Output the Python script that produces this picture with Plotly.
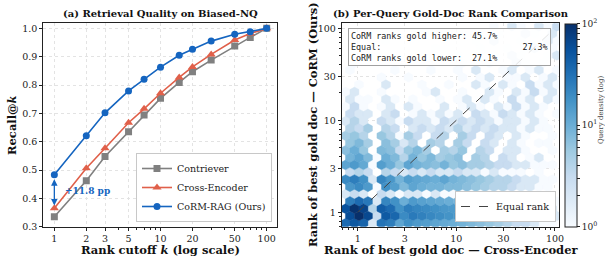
import math
import plotly.graph_objects as go
import plotly.colors as pc

# ---------------- data: panel (a) ----------------
k_values = [1, 2, 3, 5, 7, 10, 15, 20, 30, 50, 70, 100]
recall_contriever = [0.335, 0.462, 0.548, 0.635, 0.694, 0.753, 0.809, 0.847, 0.888, 0.938, 0.968, 1.0]
recall_cross_encoder = [0.365, 0.506, 0.577, 0.667, 0.716, 0.771, 0.827, 0.864, 0.908, 0.959, 0.982, 1.0]
recall_corm = [0.483, 0.621, 0.702, 0.779, 0.820, 0.863, 0.905, 0.926, 0.955, 0.979, 0.988, 1.0]
k_ticks = [1, 2, 3, 5, 10, 20, 50, 100]
recall_ticks = [0.3, 0.4, 0.5, 0.6, 0.7, 0.8, 0.9, 1.0]
gap_label = "+11.8 pp"

# ---------------- data: panel (b) hexbin counts ----------------
# rows listed from top (highest CoRM rank) to bottom (rank ~0.76); 24 bins per row
hex_counts = [
    [0, 0, 0, 0, 0, 0, 0, 0, 0, 0, 0, 0, 0, 0, 0, 0, 1, 0, 2, 1, 0, 2, 1, 3],
    [0, 0, 0, 0, 0, 0, 0, 0, 0, 0, 0, 0, 0, 1, 0, 0, 0, 1, 0, 0, 2, 1, 0, 2],
    [0, 0, 0, 0, 1, 0, 0, 0, 0, 0, 0, 0, 0, 0, 1, 0, 2, 0, 0, 1, 0, 0, 2, 1],
    [0, 0, 0, 0, 0, 0, 0, 0, 0, 0, 1, 0, 0, 0, 0, 1, 0, 0, 1, 0, 1, 2, 0, 1],
    [0, 0, 0, 0, 0, 0, 0, 0, 0, 0, 0, 0, 1, 0, 0, 0, 1, 0, 2, 1, 0, 0, 1, 2],
    [0, 1, 0, 0, 0, 0, 0, 0, 0, 0, 0, 0, 0, 1, 0, 0, 1, 0, 0, 2, 1, 0, 1, 0],
    [1, 0, 0, 0, 0, 1, 0, 0, 0, 1, 0, 0, 1, 0, 2, 0, 0, 1, 2, 0, 1, 2, 0, 1],
    [0, 0, 0, 0, 1, 0, 0, 1, 0, 0, 0, 0, 0, 1, 0, 1, 2, 0, 1, 1, 2, 0, 1, 2],
    [0, 1, 0, 0, 2, 0, 0, 0, 1, 0, 0, 1, 0, 0, 2, 1, 0, 2, 1, 0, 3, 1, 2, 1],
    [1, 2, 0, 0, 1, 0, 0, 0, 0, 1, 2, 0, 0, 1, 0, 0, 2, 1, 0, 2, 1, 3, 1, 2],
    [2, 1, 1, 0, 2, 1, 0, 1, 0, 0, 1, 0, 1, 2, 0, 2, 1, 0, 3, 1, 2, 0, 2, 1],
    [1, 3, 1, 0, 1, 2, 0, 2, 1, 0, 0, 2, 0, 1, 2, 1, 0, 2, 1, 3, 1, 2, 1, 0],
    [3, 2, 2, 0, 2, 3, 0, 1, 2, 1, 2, 1, 2, 0, 3, 2, 1, 3, 2, 1, 2, 1, 0, 1],
    [2, 4, 2, 0, 3, 2, 1, 3, 2, 2, 1, 3, 2, 3, 2, 3, 2, 1, 2, 2, 1, 2, 1, 0],
    [4, 3, 5, 0, 4, 3, 0, 2, 3, 2, 3, 2, 4, 2, 3, 2, 3, 2, 2, 1, 2, 1, 1, 0],
    [5, 6, 4, 0, 6, 4, 1, 5, 3, 0, 3, 4, 0, 5, 3, 0, 3, 2, 0, 2, 1, 0, 0, 1],
    [6, 8, 5, 0, 7, 5, 2, 4, 0, 5, 4, 0, 5, 3, 0, 3, 2, 0, 2, 1, 0, 1, 1, 0],
    [7, 10, 6, 0, 8, 7, 3, 6, 8, 5, 0, 5, 4, 6, 0, 4, 3, 0, 2, 2, 1, 0, 0, 1],
    [9, 12, 8, 1, 10, 8, 4, 9, 6, 8, 5, 6, 7, 0, 5, 4, 0, 3, 2, 0, 1, 2, 0, 0],
    [12, 15, 11, 1, 14, 10, 6, 12, 9, 8, 7, 9, 6, 7, 5, 5, 4, 3, 3, 2, 2, 1, 1, 1],
    [3, 4, 3, 0, 4, 3, 2, 3, 2, 3, 2, 2, 3, 2, 2, 1, 2, 1, 1, 1, 0, 1, 0, 0],
    [20, 25, 18, 2, 22, 16, 9, 14, 12, 11, 10, 12, 9, 8, 7, 6, 5, 4, 4, 3, 2, 2, 1, 1],
    [16, 20, 15, 1, 18, 14, 8, 12, 10, 9, 9, 8, 8, 7, 6, 5, 4, 4, 3, 2, 2, 1, 1, 0],
    [2, 3, 2, 0, 3, 2, 1, 2, 2, 1, 2, 1, 1, 1, 1, 1, 1, 0, 1, 0, 0, 0, 0, 0],
    [25, 35, 28, 2, 22, 18, 10, 15, 13, 12, 11, 10, 9, 9, 8, 7, 6, 5, 4, 4, 3, 2, 2, 1],
    [55, 95, 70, 4, 45, 35, 18, 25, 22, 20, 18, 16, 15, 14, 12, 10, 9, 8, 6, 5, 4, 3, 2, 2],
    [60, 100, 65, 3, 48, 38, 20, 27, 24, 21, 19, 17, 16, 15, 13, 11, 9, 8, 7, 5, 4, 3, 3, 2],
    [35, 50, 40, 2, 30, 25, 12, 18, 15, 14, 12, 11, 10, 9, 8, 7, 6, 5, 4, 3, 3, 2, 1, 1],
]
rank_ticks = [1, 3, 10, 30, 100]
summary_labels = ["CoRM ranks gold higher:", "Equal:", "CoRM ranks gold lower:"]
summary_values = ["45.7%", "27.3%", "27.1%"]
diag_ranks = [1, 100]

# ---------------- hexbin geometry (log10 units) ----------------
HEX_X0, HEX_DX = -0.124, 0.0912
HEX_Y0, HEX_DY = -0.12, 0.0793   # half-row spacing

W, H = 605, 260
SERIF = "DejaVu Serif"
MONO = "DejaVu Sans Mono"
C_GRAY, C_RED, C_BLUE = "#808080", "#E0604A", "#1565C0"


def px(xp):
    return xp / W


def py(yp):
    return 1 - yp / H


fig = go.Figure()

# ---- panel (a) lines ----
for name, vals, col, sym in [
    ("Contriever", recall_contriever, C_GRAY, "square"),
    ("Cross-Encoder", recall_cross_encoder, C_RED, "triangle-up"),
    ("CoRM-RAG (Ours)", recall_corm, C_BLUE, "circle"),
]:
    fig.add_trace(go.Scatter(
        x=k_values, y=vals, mode="lines+markers", name=name,
        line=dict(color=col, width=1.6),
        marker=dict(symbol=sym, size=7 if sym != "triangle-up" else 8, color=col),
        xaxis="x", yaxis="y", legend="legend"))

# ---- panel (b) hexbin ----
blues = pc.make_colorscale(pc.sequential.Blues)
n_rows = len(hex_counts)
groups = {}
for ri, row in enumerate(hex_counts):
    r = n_rows - 1 - ri
    cy = HEX_Y0 + r * HEX_DY
    off = 0.5 if r % 2 else 0.0
    for i, c in enumerate(row):
        if c <= 0:
            continue
        cx = HEX_X0 + (i + off) * HEX_DX
        hw, h1, h2 = HEX_DX / 2, (2 * HEX_DY) / 6, (2 * HEX_DY) / 3
        verts = [(hw, -h1), (hw, h1), (0, h2), (-hw, h1), (-hw, -h1), (0, -h2), (hw, -h1)]
        g = groups.setdefault(c, ([], []))
        for dx, dy in verts:
            g[0].append(10 ** (cx + dx))
            g[1].append(10 ** (cy + dy))
        g[0].append(None)
        g[1].append(None)

for c in sorted(groups):
    col = pc.sample_colorscale(blues, [min(1.0, math.log10(c) / 2.0)])[0]
    xs, ys = groups[c]
    fig.add_trace(go.Scatter(
        x=xs, y=ys, mode="lines", fill="toself", fillcolor=col,
        line=dict(color=col, width=0.4), hoverinfo="skip", showlegend=False,
        xaxis="x2", yaxis="y2"))

# colorbar carrier
cb_vals = [0] + [math.log10(v) for v in range(2, 10)] + [1] + [math.log10(v) for v in range(20, 100, 10)] + [2]
cb_text = ["10<sup>0</sup>"] + [" "] * 8 + ["10<sup>1</sup>"] + [" "] * 8 + ["10<sup>2</sup>"]
fig.add_trace(go.Scatter(
    x=[1], y=[1], mode="markers", hoverinfo="skip", showlegend=False,
    marker=dict(color=[0], cmin=0, cmax=2, colorscale="Blues", opacity=0, size=1,
                showscale=True,
                colorbar=dict(x=px(565), xanchor="left", y=py(125), yanchor="middle",
                              len=(226.7 - 23.3) / H, lenmode="fraction",
                              thickness=12, thicknessmode="pixels", xpad=0, ypad=0,
                              outlinewidth=1, outlinecolor="#222",
                              tickmode="array", tickvals=cb_vals, ticktext=cb_text,
                              ticks="outside", ticklen=3, tickwidth=0.8, tickcolor="#222",
                              tickfont=dict(family=SERIF, size=9, color="#222"))),
    xaxis="x2", yaxis="y2"))

# diagonal
fig.add_trace(go.Scatter(
    x=diag_ranks, y=diag_ranks, mode="lines", name="Equal rank",
    line=dict(color="#444", width=1, dash="dash"),
    xaxis="x2", yaxis="y2", legend="legend2"))

axis_common = dict(showline=True, mirror=True, linecolor="#222", linewidth=1,
                   ticks="outside", ticklen=3, tickwidth=0.8, tickcolor="#222",
                   tickfont=dict(family=SERIF, size=9.5, color="#222"),
                   showgrid=True, gridcolor="#e3e3e3", gridwidth=0.7, griddash="dot",
                   zeroline=False, automargin=False)

minor_a = [4, 6, 7, 8, 9, 30, 40, 60, 70, 80, 90]
minor_b = [0.7, 0.8, 0.9, 2, 4, 5, 6, 7, 8, 9, 20, 40, 50, 60, 70, 80, 90]

fig.update_layout(
    width=W, height=H, margin=dict(l=0, r=0, t=0, b=0, autoexpand=False),
    paper_bgcolor="white", plot_bgcolor="white",
    xaxis=dict(domain=[px(43.3), px(277.3)], type="log", range=[-0.104, 2.1],
               tickmode="array", tickvals=k_ticks, ticktext=[str(v) for v in k_ticks],
               minor=dict(ticks="outside", ticklen=2, tickvals=minor_a, showgrid=False, tickcolor="#222"),
               anchor="y", **axis_common),
    yaxis=dict(domain=[py(226.7), py(22.7)], range=[0.3, 1.02],
               tickmode="array", tickvals=recall_ticks, ticktext=[f"{v:.1f}" for v in recall_ticks],
               anchor="x", **axis_common),
    xaxis2=dict(domain=[px(341.7), px(559.3)], type="log", range=[-0.162, 2.044],
                tickmode="array", tickvals=rank_ticks, ticktext=[str(v) for v in rank_ticks],
                minor=dict(ticks="outside", ticklen=2, tickvals=minor_b, showgrid=False, tickcolor="#222"),
                anchor="y2", **axis_common),
    yaxis2=dict(domain=[py(226.7), py(23.3)], type="log", range=[-0.157, 2.054],
                tickmode="array", tickvals=rank_ticks, ticktext=[str(v) for v in rank_ticks],
                minor=dict(ticks="outside", ticklen=2, tickvals=minor_b, showgrid=False, tickcolor="#222"),
                anchor="x2", **axis_common),
    legend=dict(x=px(272), xanchor="right", y=py(222), yanchor="bottom",
                bgcolor="white", bordercolor="#c8c8c8", borderwidth=1,
                font=dict(family=SERIF, size=9.5, color="#222"), tracegroupgap=0,
                itemwidth=30),
    legend2=dict(x=px(556), xanchor="right", y=py(222), yanchor="bottom",
                 bgcolor="white", bordercolor="#c8c8c8", borderwidth=1,
                 font=dict(family=SERIF, size=9.5, color="#222"), itemwidth=30),
    showlegend=True,
)

nb = "\u00a0"
lines = []
width_total = 39
for lab, val in zip(summary_labels, summary_values):
    if lab == "Equal:":
        pad = width_total - len(lab) - len(val)
    else:
        pad = 24 - len(lab)
    lines.append(lab + nb * pad + val)
box_text = "<br>".join(l.replace(" ", nb) for l in lines)

annotations = [
    dict(text="<b>(a) Retrieval Quality on Biased-NQ</b>", x=px(160.3), y=py(13),
         xref="paper", yref="paper", showarrow=False, xanchor="center", yanchor="middle",
         font=dict(family=SERIF, size=10, color="#111")),
    dict(text="<b>(b) Per-Query Gold-Doc Rank Comparison</b>", x=px(450.5), y=py(13),
         xref="paper", yref="paper", showarrow=False, xanchor="center", yanchor="middle",
         font=dict(family=SERIF, size=10, color="#111")),
    dict(text="<b>Rank cutoff <i>k</i> (log scale)</b>", x=px(160.3), y=py(249.5),
         xref="paper", yref="paper", showarrow=False, xanchor="center", yanchor="middle",
         font=dict(family=SERIF, size=11.5, color="#111")),
    dict(text="<b>Recall@<i>k</i></b>", x=px(12), y=py(125), textangle=-90,
         xref="paper", yref="paper", showarrow=False, xanchor="center", yanchor="middle",
         font=dict(family=SERIF, size=11.5, color="#111")),
    dict(text="<b>Rank of best gold doc — Cross-Encoder</b>", x=px(451), y=py(249.5),
         xref="paper", yref="paper", showarrow=False, xanchor="center", yanchor="middle",
         font=dict(family=SERIF, size=11.5, color="#111")),
    dict(text="<b>Rank of best gold doc — CoRM (Ours)</b>", x=px(313), y=py(125), textangle=-90,
         xref="paper", yref="paper", showarrow=False, xanchor="center", yanchor="middle",
         font=dict(family=SERIF, size=11.5, color="#111")),
    dict(text="Query density (log)", x=px(601), y=py(110), textangle=-90,
         xref="paper", yref="paper", showarrow=False, xanchor="center", yanchor="middle",
         font=dict(family=SERIF, size=7, color="#444")),
    dict(text=box_text, x=px(348), y=py(28), xref="paper", yref="paper",
         showarrow=False, xanchor="left", yanchor="top", align="left",
         bgcolor="rgba(255,255,255,0.85)", bordercolor="#a0a0a0", borderwidth=1, borderpad=2,
         font=dict(family=MONO, size=8.4, color="#222")),
    # gap arrow
    dict(x=0, y=recall_cross_encoder[0] + 0.01, ax=0, ay=recall_corm[0] - 0.01,
         xref="x", yref="y", axref="x", ayref="y", text="", showarrow=True,
         arrowhead=2, startarrowhead=2, arrowside="end+start", arrowsize=1, arrowwidth=1.3,
         arrowcolor=C_BLUE),
    dict(text=f"<b>{gap_label}</b>", x=0.079, y=0.425, xref="x", yref="y", showarrow=False,
         xanchor="left", yanchor="middle", font=dict(family=SERIF, size=9, color=C_BLUE)),
]
fig.update_layout(annotations=annotations)

fig.write_html("out.html", config={"displayModeBar": False},
               post_script="document.body.style.margin='0';document.body.style.padding='0';")
